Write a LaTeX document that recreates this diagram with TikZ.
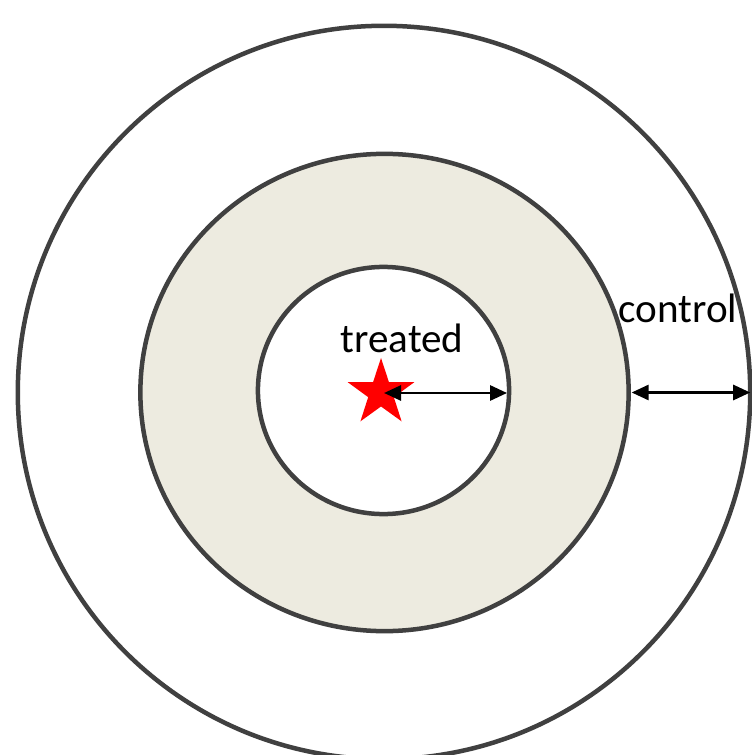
\documentclass[tikz,border=0pt]{standalone}
\usepackage{fontspec}
\setmainfont{Carlito}
\usetikzlibrary{shapes.geometric,arrows.meta}
\definecolor{ringline}{RGB}{64,64,64}
\definecolor{ringfill}{RGB}{237,235,224}
\begin{document}
\begin{tikzpicture}[x=0.01cm, y=-0.01cm,
  ringnode/.style={draw=ringline, line width=0.045cm, ellipse, inner sep=0, outer sep=0},
  widtharrow/.style={{Triangle[length=0.17cm,width=0.15cm]}-{Triangle[length=0.17cm,width=0.15cm]}, line width=0.028cm},
  label/.style={anchor=base, font=\fontsize{11.7}{14}\selectfont}]
\useasboundingbox (0,0) rectangle (752,755);
\clip (0,0) rectangle (752,755);
% rings
\node[ringnode, fill=white, minimum width=7.32cm, minimum height=7.33cm] (outer) at (384,392.5) {};
\node[ringnode, fill=ringfill, minimum width=4.88cm, minimum height=4.77cm] (middle) at (384.5,392.5) {};
\node[ringnode, fill=white, minimum width=2.51cm, minimum height=2.47cm] (inner) at (383.5,390.5) {};
% treated site
\node[star, star points=5, star point ratio=2.6, fill=red, inner sep=0, minimum size=0.7cm] (site) at (381,393) {};
\node[label] (treated) at (402,352) {treated};
\node[label] (control) at (678,323) {control};

\draw[widtharrow] ([xshift=0.03cm]site.center) -- ([xshift=-0.02cm]site.center -| inner.east);
\draw[widtharrow] ([xshift=0.03cm]middle.east) -- (outer.east);

\end{tikzpicture}
\end{document}
